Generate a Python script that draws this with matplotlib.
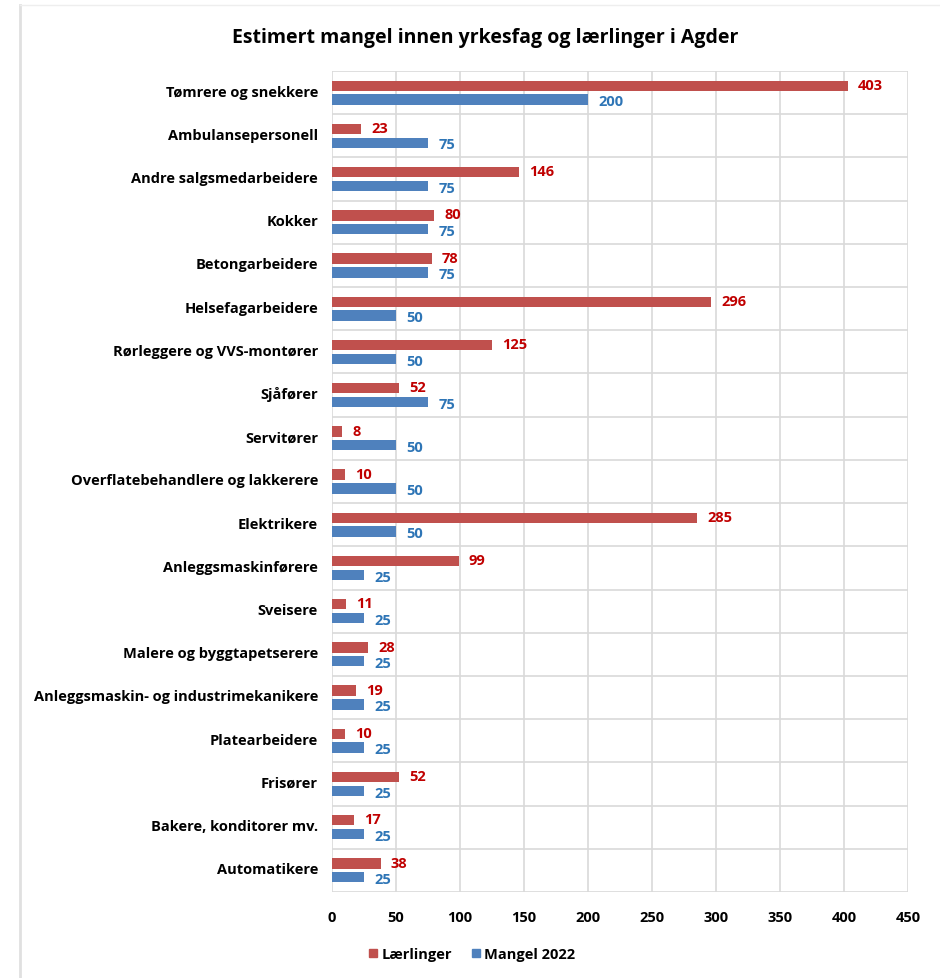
import numpy as np
import matplotlib.pyplot as plt
from matplotlib.lines import Line2D

categories = ['Tømrere og snekkere', 'Ambulansepersonell', 'Andre salgsmedarbeidere',
              'Kokker', 'Betongarbeidere', 'Helsefagarbeidere', 'Rørleggere og VVS-montører',
              'Sjåfører', 'Servitører', 'Overflatebehandlere og lakkerere', 'Elektrikere',
              'Anleggsmaskinførere', 'Sveisere', 'Malere og byggtapetserere',
              'Anleggsmaskin- og industrimekanikere', 'Platearbeidere', 'Frisører',
              'Bakere, konditorer mv.', 'Automatikere']
laerlinger = [403, 23, 146, 80, 78, 296, 125, 52, 8, 10, 285, 99, 11, 28, 19, 10, 52, 17, 38]
mangel = [200, 75, 75, 75, 75, 50, 50, 75, 50, 50, 50, 25, 25, 25, 25, 25, 25, 25, 25]
xticks = [0, 50, 100, 150, 200, 250, 300, 350, 400, 450]

plt.rcParams['font.family'] = ['Open Sans', 'DejaVu Sans']

red = '#C0504D'
blue = '#4F81BD'
red_txt = '#C00000'
blue_txt = '#2E75B6'

fig = plt.figure(figsize=(9.4, 9.79), dpi=100)
ax = fig.add_axes([332/940, 1-893/979, 576/940, 821/979])

n = len(categories)
y = np.arange(n)
h = 0.24
off = 0.16
ax.barh(y - off, laerlinger, height=h, color=red, zorder=3)
ax.barh(y + off, mangel, height=h, color=blue, zorder=3)

# value labels
for i in range(n):
    ax.text(laerlinger[i] + 8, y[i] - off - 0.02, str(laerlinger[i]), color=red_txt,
            fontsize=10.5, fontweight='bold', va='center', ha='left')
    ax.text(mangel[i] + 8, y[i] + off + 0.04, str(mangel[i]), color=blue_txt,
            fontsize=10.5, fontweight='bold', va='center', ha='left')

ax.set_ylim(n - 0.5, -0.5)
ax.set_xlim(0, 450)
ax.set_xticks(xticks)
ax.set_xticklabels([str(t) for t in xticks], fontsize=10.5, fontweight='bold')
ax.set_yticks(y - 0.06)
ax.set_yticklabels(categories, fontsize=10.5, fontweight='bold')
ax.tick_params(length=0, pad=10)
ax.tick_params(axis='x', pad=13)

# grid: vertical at ticks, horizontal at category boundaries
for t in xticks:
    ax.axvline(t, color='#D9D9D9', lw=1.2, zorder=1)
for b in np.arange(-0.5, n, 1.0):
    ax.axhline(b, color='#D9D9D9', lw=1.2, zorder=1)
for s in ax.spines.values():
    s.set_visible(False)

fig.text(485/940, 1-38/979, 'Estimert mangel innen yrkesfag og lærlinger i Agder',
         ha='center', va='center', fontsize=14, fontweight='bold')

handles = [Line2D([], [], marker='s', ls='', color=red, markersize=6),
           Line2D([], [], marker='s', ls='', color=blue, markersize=6)]
fig.legend(handles, ['Lærlinger', 'Mangel 2022'], loc='center', ncol=2,
           bbox_to_anchor=(470/940, 1-955/979), frameon=False,
           prop={'weight': 'bold', 'size': 10.5}, handletextpad=0.0,
           columnspacing=1.0, handlelength=1.2)

# outer frame of the screenshot
fig.add_artist(Line2D([20/940, 20/940], [0, 1-6/979], transform=fig.transFigure,
                      color='#E0E0E0', lw=2))
fig.add_artist(Line2D([20/940, 1], [1-6/979, 1-6/979], transform=fig.transFigure,
                      color='#EEEEEE', lw=1))

fig.savefig('out.png', dpi=100)
